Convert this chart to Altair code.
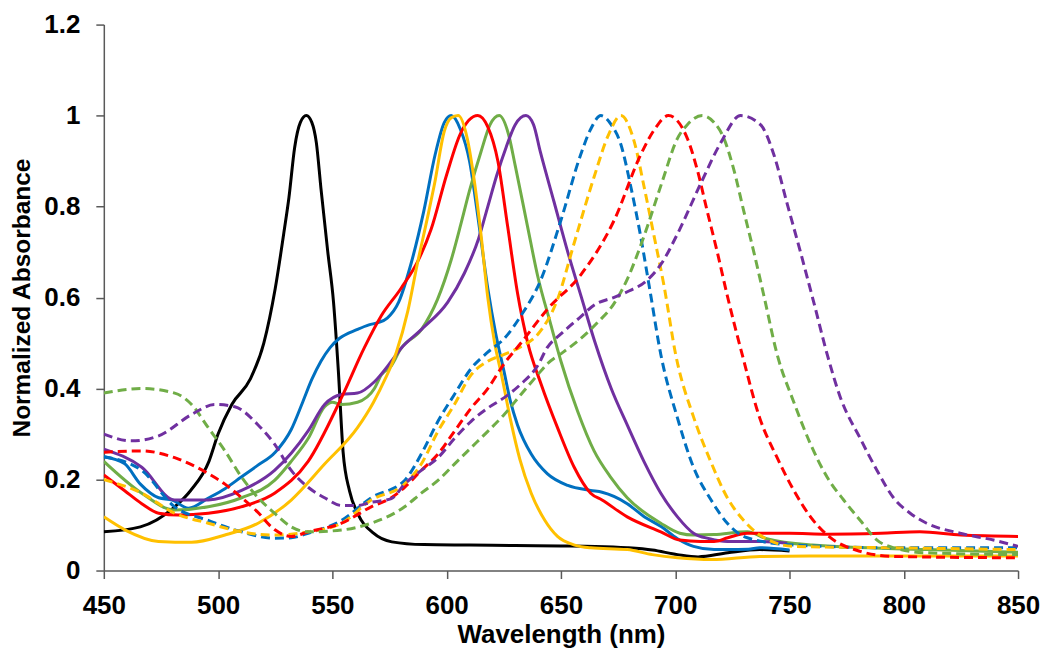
import altair as alt
import pandas as pd

# ---------------- data ----------------
black_x = [450, 466, 481, 488, 496, 500, 506, 514, 520, 525, 529, 531, 533.5, 536, 538.6, 541, 543, 545,
           548, 550.5, 552.6, 554.7, 557.5, 561, 568, 576, 590, 610, 630, 650, 665, 679, 690, 701, 710,
           723, 737, 750]
black_y = [0.085, 0.096, 0.14, 0.176, 0.24, 0.30, 0.365, 0.42, 0.50, 0.62, 0.75, 0.82, 0.93, 0.985, 1.0, 0.985,
           0.94, 0.84, 0.70, 0.59, 0.44, 0.26, 0.175, 0.126, 0.082, 0.063, 0.057, 0.056, 0.055, 0.054, 0.053,
           0.05, 0.045, 0.035, 0.030, 0.039, 0.046, 0.043]

blue_x = [450, 459, 466, 474, 480, 487, 496, 503, 510, 517, 525, 532, 537, 541, 545, 549, 553, 561, 566, 570,
          574, 579, 584.5, 590, 595, 599, 602, 606, 610, 613.6, 618, 621.5, 625, 628, 631, 637, 644, 653, 663,
          668, 679, 686, 694, 701, 708, 717, 723, 732, 737, 750]
blue_y = [0.25, 0.235, 0.19, 0.16, 0.155, 0.137, 0.16, 0.18, 0.205, 0.23, 0.26, 0.31, 0.37, 0.42, 0.46, 0.49,
          0.51, 0.53, 0.54, 0.545, 0.555, 0.59, 0.676, 0.79, 0.915, 0.985, 1.0, 0.97, 0.90, 0.78, 0.62, 0.52,
          0.44, 0.37, 0.32, 0.256, 0.213, 0.187, 0.176, 0.172, 0.147, 0.12, 0.096, 0.07, 0.053, 0.046, 0.046,
          0.047, 0.05, 0.045]

red_x = [450, 459, 466.6, 474, 482.6, 495.7, 510, 524.7, 539.4, 554, 564, 571.4, 580, 587.4, 593.2, 600, 606,
         613.6, 618, 622.4, 626.7, 631, 635.5, 641.3, 648.5, 655.8, 663, 668, 679, 693.7, 702, 711, 717, 723,
         731.5, 750, 766.5, 790, 807, 825, 850]
red_y = [0.21, 0.176, 0.147, 0.126, 0.122, 0.126, 0.14, 0.17, 0.24, 0.38, 0.49, 0.56, 0.62, 0.68, 0.75, 0.87,
         0.96, 1.0, 0.975, 0.90, 0.756, 0.61, 0.50, 0.41, 0.314, 0.227, 0.17, 0.155, 0.118, 0.085, 0.067, 0.064,
         0.064, 0.072, 0.082, 0.082, 0.08, 0.082, 0.085, 0.078, 0.075]

green_x = [450, 466.6, 481, 495.7, 510.3, 524.7, 532, 539.4, 546.6, 550, 554, 561, 568.4, 571.4, 575.8, 580,
           589, 596, 602, 606.3, 610, 615, 619, 623, 627, 630, 635.4, 639.8, 645.6, 650, 657.3, 664.5, 671.8,
           679, 693.7, 702, 708, 717, 731.5, 740, 760, 810, 850]
green_y = [0.24, 0.17, 0.133, 0.14, 0.16, 0.198, 0.24, 0.29, 0.36, 0.37, 0.365, 0.37, 0.40, 0.43, 0.45, 0.488,
           0.53, 0.596, 0.683, 0.763, 0.835, 0.92, 0.98, 1.0, 0.96, 0.89, 0.756, 0.648, 0.54, 0.46, 0.35, 0.263,
           0.205, 0.16, 0.104, 0.082, 0.078, 0.079, 0.085, 0.07, 0.056, 0.046, 0.04]

purple_x = [450, 466.6, 481, 495.7, 510.3, 524.7, 539.4, 546.6, 554, 561, 568.4, 575.8, 580, 589, 600.5, 607.8,
            614, 618, 622, 626, 630, 634.7, 638, 641, 647, 653, 659, 665, 672, 679, 686.3, 693.7, 701, 708, 715,
            722.8, 737, 749]
purple_y = [0.267, 0.227, 0.155, 0.155, 0.176, 0.22, 0.307, 0.365, 0.387, 0.39, 0.415, 0.46, 0.488, 0.53, 0.59,
            0.654, 0.73, 0.80, 0.87, 0.93, 0.98, 1.0, 0.98, 0.92, 0.81, 0.70, 0.60, 0.50, 0.40, 0.32, 0.24,
            0.17, 0.118, 0.082, 0.07, 0.064, 0.064, 0.06]

yellow_x = [450, 459.4, 473.9, 488.4, 503, 517.5, 532, 546.6, 561, 568, 573, 578, 583, 587, 591.8, 594.7,
            599, 602, 605, 609, 612, 615, 618, 621, 624, 628, 632, 637, 643, 648.5, 656, 663, 679, 690, 701,
            716, 737, 766, 850]
yellow_y = [0.118, 0.089, 0.064, 0.062, 0.078, 0.104, 0.155, 0.234, 0.314, 0.37, 0.42, 0.48, 0.57, 0.67, 0.78,
            0.85, 0.966, 0.995, 1.0, 0.95, 0.86, 0.74, 0.60, 0.50, 0.43, 0.33, 0.245, 0.17, 0.11, 0.075, 0.056,
            0.05, 0.046, 0.035, 0.028, 0.024, 0.031, 0.032, 0.032]

blue_d_x = [450, 466.6, 481, 495.7, 510.3, 524.7, 532, 539.4, 554, 567, 581.6, 588.9, 596.2, 603.4, 610.7, 618,
            625.2, 632.5, 641.3, 650, 658.7, 663, 667.5, 672, 676.2, 680.6, 684.9, 688.6, 693.7, 701, 708, 715.7,
            722.8, 731.5, 752, 795.5, 850]
blue_d_y = [0.25, 0.22, 0.14, 0.11, 0.085, 0.071, 0.072, 0.082, 0.11, 0.16, 0.198, 0.256, 0.328, 0.387, 0.444,
            0.48, 0.51, 0.56, 0.64, 0.77, 0.915, 0.97, 1.0, 0.98, 0.937, 0.843, 0.734, 0.626, 0.475, 0.335, 0.227,
            0.155, 0.104, 0.072, 0.056, 0.05, 0.05]

yellow_d_x = [450, 466.6, 481, 495.7, 510.3, 524.7, 539.4, 554, 567, 581.6, 588.9, 596.2, 603.4, 610.7, 618,
              625.2, 632.5, 640, 648.5, 655.8, 664.5, 671, 676.2, 682, 686.4, 690.8, 695.1, 700.2, 708.2, 715.5,
              722.8, 730, 737, 752, 795.5, 850]
yellow_d_y = [0.20, 0.17, 0.126, 0.104, 0.085, 0.078, 0.085, 0.104, 0.155, 0.19, 0.234, 0.306, 0.365, 0.43, 0.46,
              0.475, 0.492, 0.52, 0.596, 0.72, 0.865, 0.96, 1.0, 0.944, 0.843, 0.734, 0.626, 0.475, 0.335, 0.24,
              0.16, 0.11, 0.078, 0.053, 0.05, 0.046]

red_d_x = [450, 466.6, 481, 495.7, 503, 510.3, 517, 524.7, 532, 539.4, 554, 567, 575.8, 581.6, 588.9, 596.2,
           603.4, 610.7, 618, 625.2, 632.5, 644.2, 658.7, 673.3, 685, 691, 697, 705.3, 709.7, 714, 718.4, 722.8,
           729.3, 737, 744.6, 751.9, 759.2, 766.5, 781, 795.5, 850]
red_d_y = [0.26, 0.263, 0.248, 0.213, 0.19, 0.16, 0.13, 0.09, 0.075, 0.085, 0.104, 0.14, 0.16, 0.183, 0.22,
           0.256, 0.306, 0.357, 0.40, 0.455, 0.50, 0.575, 0.65, 0.77, 0.915, 0.97, 1.0, 0.95, 0.88, 0.79, 0.70,
           0.604, 0.475, 0.335, 0.248, 0.176, 0.118, 0.078, 0.042, 0.031, 0.028]

green_d_x = [450, 466.6, 481, 488.4, 495.7, 503, 510.3, 517.5, 524.7, 532, 539.4, 554, 567, 581.6, 588.9, 596.2,
             603.4, 610.7, 618, 625.2, 632.5, 639.8, 644.2, 651, 658.7, 666, 673, 679, 686, 694, 701, 705.3,
             711.8, 717, 721.3, 725.7, 730, 734.4, 738.8, 744.6, 751.9, 759.2, 766.5, 773.7, 781, 788.3, 795.5,
             810, 850]
green_d_y = [0.39, 0.40, 0.39, 0.365, 0.314, 0.263, 0.205, 0.16, 0.126, 0.096, 0.085, 0.089, 0.104, 0.14, 0.17,
             0.198, 0.234, 0.27, 0.306, 0.343, 0.387, 0.43, 0.455, 0.48, 0.51, 0.545, 0.585, 0.64, 0.73, 0.85,
             0.95, 0.98, 1.0, 0.985, 0.95, 0.88, 0.79, 0.70, 0.604, 0.475, 0.37, 0.278, 0.205, 0.155, 0.11, 0.067,
             0.05, 0.039, 0.035]

purple_d_x = [450, 462, 474, 488.4, 498.6, 507.3, 517.5, 524.7, 532, 539.4, 546.6, 554, 561, 567, 575.8, 581.6,
              588.9, 596.2, 603.4, 610.7, 618, 625.2, 632.5, 639.8, 644, 650, 658, 665, 673, 680, 687, 694, 701,
              711.1, 719.9, 728.6, 737.3, 743.1, 749, 754.8, 760.6, 766.5, 772.3, 781, 788.3, 795.5, 802.8, 810,
              824.6, 839.2, 850]
purple_d_y = [0.30, 0.285, 0.296, 0.343, 0.365, 0.36, 0.32, 0.278, 0.22, 0.183, 0.16, 0.143, 0.143, 0.15, 0.158,
              0.19, 0.22, 0.248, 0.29, 0.328, 0.357, 0.38, 0.41, 0.45, 0.49, 0.52, 0.555, 0.585, 0.60, 0.615,
              0.635, 0.675, 0.74, 0.85, 0.94, 1.0, 0.98, 0.915, 0.806, 0.70, 0.59, 0.475, 0.38, 0.29, 0.22,
              0.16, 0.126, 0.104, 0.082, 0.067, 0.053]

# (name, colour, dashed?, x, y) in drawing order
series = [
    ("black", "#000000", False, black_x, black_y),
    ("blue", "#0070C0", False, blue_x, blue_y),
    ("green", "#70AD47", False, green_x, green_y),
    ("purple", "#7030A0", False, purple_x, purple_y),
    ("red", "#FF0000", False, red_x, red_y),
    ("yellow", "#FFC000", False, yellow_x, yellow_y),
    ("blue dashed", "#0070C0", True, blue_d_x, blue_d_y),
    ("yellow dashed", "#FFC000", True, yellow_d_x, yellow_d_y),
    ("red dashed", "#FF0000", True, red_d_x, red_d_y),
    ("green dashed", "#70AD47", True, green_d_x, green_d_y),
    ("purple dashed", "#7030A0", True, purple_d_x, purple_d_y),
]

x_ticks = [450, 500, 550, 600, 650, 700, 750, 800, 850]
y_ticks = [0, 0.2, 0.4, 0.6, 0.8, 1, 1.2]

FONT = "Liberation Sans"
AX = "#595959"

x_enc = alt.X(
    "wl:Q",
    scale=alt.Scale(domain=[450, 850], nice=False, zero=False),
    axis=alt.Axis(
        values=x_ticks, title="Wavelength (nm)", grid=False,
        domainColor=AX, domainWidth=1.5, tickColor=AX, tickWidth=1.5, tickSize=8,
        labelFont=FONT, labelFontSize=26, labelFontWeight="bold", labelColor="#000000",
        labelPadding=14, labelFlush=False,
        titleFont=FONT, titleFontSize=26, titleFontWeight="bold", titleColor="#000000",
        titleX=458, titleY=72, titleBaseline="alphabetic", titleAlign="center",
    ),
)
y_enc = alt.Y(
    "a:Q",
    scale=alt.Scale(domain=[0, 1.2], nice=False, zero=True),
    axis=alt.Axis(
        values=y_ticks, format="~g", title="Normalized Absorbance", grid=False,
        domainColor=AX, domainWidth=1.5, tickColor=AX, tickWidth=1.5, tickSize=8,
        labelFont=FONT, labelFontSize=26, labelFontWeight="bold", labelColor="#000000",
        labelPadding=16, labelFlush=False,
        titleFont=FONT, titleFontSize=24.5, titleFontWeight="bold", titleColor="#000000",
        titleX=-74, titleY=273.5, titleAngle=270, titleBaseline="alphabetic", titleAlign="center",
    ),
)

layers = []
for name, col, dashed, xs, ys in series:
    d = pd.DataFrame({"wl": xs, "a": ys})
    kw = dict(interpolate="monotone", strokeWidth=3, color=col, clip=True)
    if dashed:
        kw["strokeDash"] = [9, 5]
    layers.append(alt.Chart(d).mark_line(**kw).encode(x=x_enc, y=y_enc))

chart = (
    alt.layer(*layers)
    .properties(
        width=916, height=547,
        padding={"left": 96, "top": 16, "right": 24, "bottom": 78},
        autosize=alt.AutoSizeParams(type="none"),
        background="#ffffff",
    )
    .configure_view(strokeWidth=0)
)

chart.save("out.html", embed_options={"renderer": "svg", "actions": False})
